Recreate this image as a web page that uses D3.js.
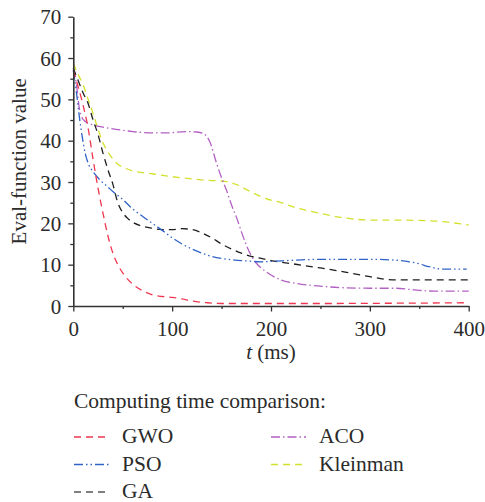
<!DOCTYPE html>
<html>
<head>
<meta charset="utf-8">
<script src="https://cdn.jsdelivr.net/npm/d3@7"></script>
<style>
  html, body { margin: 0; padding: 0; background: #fff; }
  svg { display: block; }
  text { font-family: "Liberation Serif", "DejaVu Serif", serif; fill: #2b2b2b; }
</style>
</head>
<body>
<svg id="chart" width="485" height="502"></svg>
<script>
// ---- data (t in ms, evaluation-function value) ----
const seriesNames = ["GWO", "PSO", "GA", "ACO", "Kleinman"];
const gwoData = [[0,57],[5,53],[10,48.5],[15,43],[20,35.5],[25,28.5],[30,22.5],[35,17],[40,12.8],[45,10],[50,8],[60,5.3],[70,3.7],[80,2.7],[90,2.3],[100,2.1],[110,1.7],[120,1.2],[135,0.8],[150,0.6],[200,0.6],[250,0.6],[300,0.65],[350,0.7],[400,0.8]];
const psoData = [[0,57],[3,52],[6,46],[9,41],[12,37],[16,34],[20,32.5],[27,30.5],[35,28.8],[40,27.7],[50,25.8],[60,23.5],[70,21.7],[80,20],[90,18.3],[100,16.5],[110,15],[120,13.8],[130,12.8],[140,12],[150,11.5],[160,11.2],[175,10.9],[190,10.7],[200,10.8],[225,11.1],[250,11.3],[275,11.3],[300,11.3],[325,11.1],[340,10.7],[350,10.2],[360,9.5],[375,8.9],[398,8.9]];
const gaData = [[0,57.5],[5,54.5],[10,51.5],[15,49],[20,45],[25,41.5],[30,37],[35,33],[40,29.5],[45,25],[50,22.6],[55,21.2],[60,20.3],[70,19.3],[80,18.8],[90,18.5],[100,18.5],[110,18.7],[120,18.5],[130,17.7],[140,16.5],[150,15],[160,13.8],[170,12.8],[180,12],[190,11.5],[200,11],[225,10.1],[250,9.2],[275,8.2],[300,7.1],[315,6.5],[330,6.3],[400,6.3]];
const acoData = [[0,57.5],[3,54],[6,48],[9,45.5],[13,44.5],[20,43.8],[30,43.3],[45,42.7],[60,42.2],[80,41.9],[95,41.9],[115,42.2],[125,42.1],[132,41.7],[138,39.8],[145,34.5],[150,31],[155,28],[160,24.5],[165,21.5],[170,18],[175,14.8],[180,12.2],[185,10.4],[190,9.2],[195,8.3],[200,7.5],[210,6.3],[225,5.5],[250,4.8],[275,4.4],[300,4.3],[325,4.3],[345,3.9],[365,3.6],[400,3.6]];
const kleinmanData = [[0,58.7],[5,56],[10,53.5],[15,50],[20,46.6],[25,42.8],[30,39.5],[35,37.3],[40,35.6],[45,34.3],[50,33.6],[60,32.7],[80,32],[100,31.3],[130,30.5],[155,30.1],[165,29.4],[175,28.2],[185,27],[195,26],[210,25],[225,23.8],[250,22.4],[275,21.3],[300,20.8],[325,20.8],[350,20.7],[370,20.5],[385,20.1],[400,19.6]];
const xTicks = [0, 100, 200, 300, 400];
const yTicks = [0, 10, 20, 30, 40, 50, 60, 70];
const xMinorTicks = [50, 150, 250, 350];
const yMinorTicks = [5, 15, 25, 35, 45, 55, 65];
const legendTitle = "Computing time comparison:";
const xLabelItalic = "t";
const xLabelRest = " (ms)";
const yLabel = "Eval-function value";

// ---- styles ----
const styles = {
  GWO:      { color: "#f0364f", dash: "7,5" },
  PSO:      { color: "#2f63c6", dash: "9,3,1.5,3,1.5,3" },
  GA:       { color: "#1e1e1e", dash: "7,5" },
  ACO:      { color: "#b360c3", dash: "9,3,1.5,3" },
  Kleinman: { color: "#d3e02c", dash: "7,5" }
};
const allData = { GWO: gwoData, PSO: psoData, GA: gaData, ACO: acoData, Kleinman: kleinmanData };

const svg = d3.select("#chart");
const mLeft = 73.3, mRight = 468.7, mTop = 16.7, mBottom = 306;
const x = d3.scaleLinear().domain([0, 400]).range([mLeft, mRight]);
const y = d3.scaleLinear().domain([0, 70]).range([mBottom, mTop]);

// lines
const line = d3.line().x(d => x(d[0])).y(d => y(d[1])).curve(d3.curveMonotoneX);
const drawOrder = ["Kleinman", "ACO", "GA", "PSO", "GWO"];
drawOrder.forEach(name => {
  svg.append("path")
    .datum(allData[name])
    .attr("d", line)
    .attr("fill", "none")
    .attr("stroke", styles[name].color)
    .attr("stroke-width", 1.3)
    .attr("stroke-dasharray", styles[name].dash);
});

// axes
const axisColor = "#333";
const fs = 21;
const legendFs = 21.5;
const xAxis = svg.append("g").attr("transform", `translate(0,${mBottom})`)
  .call(d3.axisBottom(x).tickValues(xTicks).tickSize(5.5).tickSizeOuter(0).tickFormat(d3.format("d")));
svg.append("g").attr("transform", `translate(0,${mBottom})`)
  .call(d3.axisBottom(x).tickValues(xMinorTicks).tickSize(3).tickSizeOuter(0).tickFormat(""))
  .call(g => g.select(".domain").remove());
const yAxis = svg.append("g").attr("transform", `translate(${mLeft},0)`)
  .call(d3.axisLeft(y).tickValues(yTicks).tickSize(5).tickSizeOuter(0).tickFormat(d3.format("d")));
svg.append("g").attr("transform", `translate(${mLeft},0)`)
  .call(d3.axisLeft(y).tickValues(yMinorTicks).tickSize(3).tickSizeOuter(0).tickFormat(""))
  .call(g => g.select(".domain").remove());

svg.selectAll(".domain").attr("stroke", axisColor).attr("stroke-width", 1.6);
svg.selectAll(".tick line").attr("stroke", axisColor).attr("stroke-width", 1.3);
svg.selectAll(".tick text")
  .attr("font-family", "Liberation Serif, DejaVu Serif, serif")
  .attr("font-size", fs).attr("fill", "#2b2b2b");
xAxis.selectAll(".tick text").attr("dy", null).attr("y", 29.5);
yAxis.selectAll(".tick text").attr("x", -12).attr("dy", "0.34em");

// axis titles
const xl = svg.append("text").attr("x", (mLeft + mRight) / 2).attr("y", 359)
  .attr("text-anchor", "middle").attr("font-size", fs);
xl.append("tspan").attr("font-style", "italic").text(xLabelItalic);
xl.append("tspan").text(xLabelRest);

svg.append("text")
  .attr("transform", `translate(26,${(mTop + mBottom) / 2}) rotate(-90)`)
  .attr("text-anchor", "middle").attr("font-size", fs).text(yLabel);

// legend
svg.append("text").attr("x", 74).attr("y", 408).attr("font-size", legendFs).text(legendTitle);
const legendPos = {
  GWO: [74, 443], PSO: [74, 470.5], GA: [74, 498],
  ACO: [271, 443], Kleinman: [271, 470.5]
};
seriesNames.forEach(name => {
  const [lx, ly] = legendPos[name];
  svg.append("line")
    .attr("x1", lx).attr("x2", lx + 35)
    .attr("y1", ly - 6).attr("y2", ly - 6)
    .attr("stroke", name === "GA" ? "#555" : styles[name].color)
    .attr("stroke-width", 1.3)
    .attr("stroke-dasharray", styles[name].dash);
  svg.append("text").attr("x", lx + 48).attr("y", ly).attr("font-size", legendFs).text(name);
});
</script>
</body>
</html>
